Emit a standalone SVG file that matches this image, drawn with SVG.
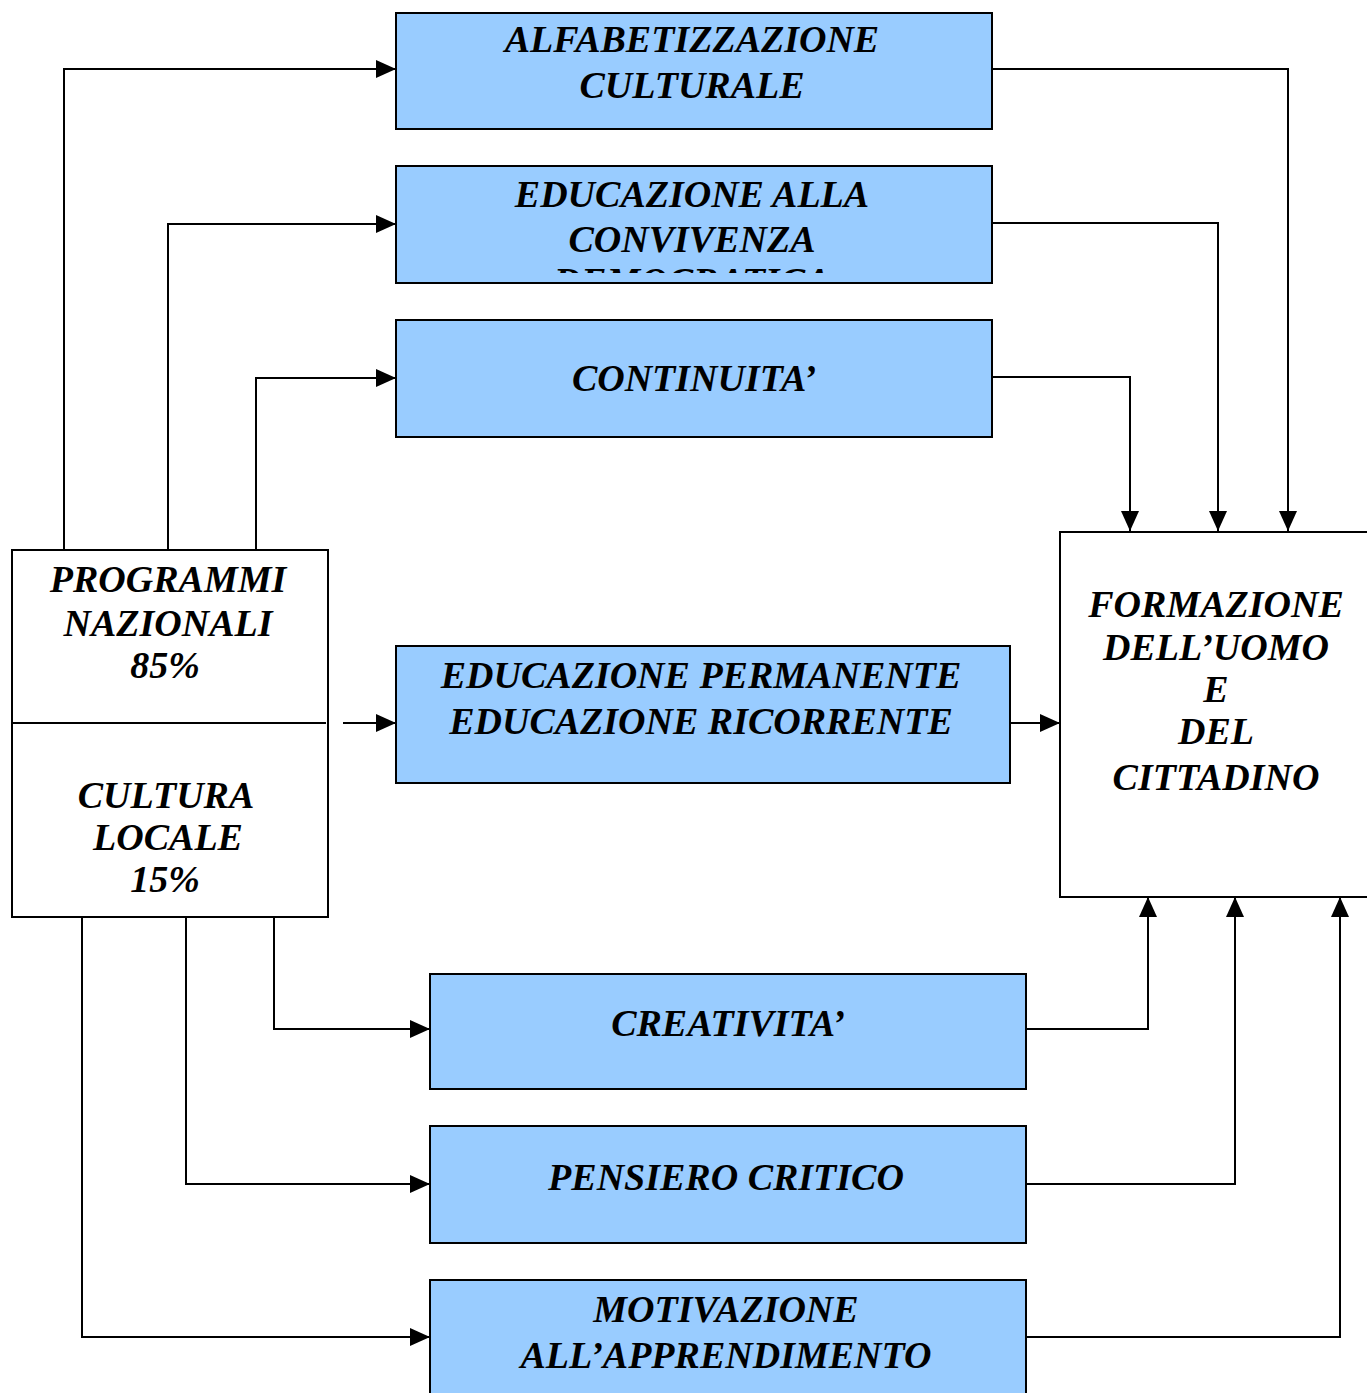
<svg xmlns="http://www.w3.org/2000/svg" width="1367" height="1393" viewBox="0 0 1367 1393">
<style>
.box{fill:#99CCFF;stroke:#000;stroke-width:2}
.wbox{fill:#fff;stroke:#000;stroke-width:2}
.t{font-family:"Liberation Serif","Times New Roman",serif;font-weight:bold;font-style:italic;font-size:38px;text-anchor:middle;fill:#000}
.c{fill:none;stroke:#000;stroke-width:2}
</style>
<defs>
<marker id="ah" viewBox="0 0 20 18" refX="20" refY="9" markerWidth="20" markerHeight="18" markerUnits="userSpaceOnUse" orient="auto">
<path d="M0,0 L20,9 L0,18 Z" fill="#000"/>
</marker>
<clipPath id="clip2"><rect x="396" y="166" width="596" height="107"/></clipPath>
</defs>
<rect width="1367" height="1393" fill="#fff"/>
<g id="connectors">
<path class="c" d="M64,550 V69 H396" marker-end="url(#ah)"/>
<path class="c" d="M168,550 V224 H396" marker-end="url(#ah)"/>
<path class="c" d="M256,550 V378 H396" marker-end="url(#ah)"/>
<path class="c" d="M343,723 H396" marker-end="url(#ah)"/>
<path class="c" d="M1010,723 H1060" marker-end="url(#ah)"/>
<path class="c" d="M990,69 H1288 V531" marker-end="url(#ah)"/>
<path class="c" d="M990,223 H1218 V531" marker-end="url(#ah)"/>
<path class="c" d="M990,377 H1130 V531" marker-end="url(#ah)"/>
<path class="c" d="M274,917 V1029 H430" marker-end="url(#ah)"/>
<path class="c" d="M186,917 V1184 H430" marker-end="url(#ah)"/>
<path class="c" d="M82,917 V1337 H430" marker-end="url(#ah)"/>
<path class="c" d="M1024,1029 H1148 V897" marker-end="url(#ah)"/>
<path class="c" d="M1024,1184 H1235 V897" marker-end="url(#ah)"/>
<path class="c" d="M1024,1337 H1340 V897" marker-end="url(#ah)"/>
</g>
<g id="alfabetizzazione">
<rect class="box" x="396" y="13" width="596" height="116"/>
<text class="t" x="692" y="52">ALFABETIZZAZIONE</text>
<text class="t" x="692" y="98">CULTURALE</text>
</g>
<g id="convivenza">
<rect class="box" x="396" y="166" width="596" height="117"/>
<g clip-path="url(#clip2)">
<text class="t" x="692" y="207">EDUCAZIONE ALLA</text>
<text class="t" x="692" y="252">CONVIVENZA</text>
<text class="t" x="692" y="294">DEMOCRATICA</text>
</g>
</g>
<g id="continuita">
<rect class="box" x="396" y="320" width="596" height="117"/>
<text class="t" x="694" y="391">CONTINUITA’</text>
</g>
<g id="permanente">
<rect class="box" x="396" y="646" width="614" height="137"/>
<text class="t" x="701" y="688">EDUCAZIONE PERMANENTE</text>
<text class="t" x="701" y="734">EDUCAZIONE RICORRENTE</text>
</g>
<g id="creativita">
<rect class="box" x="430" y="974" width="596" height="115"/>
<text class="t" x="728" y="1036">CREATIVITA’</text>
</g>
<g id="pensiero">
<rect class="box" x="430" y="1126" width="596" height="117"/>
<text class="t" x="726" y="1190">PENSIERO CRITICO</text>
</g>
<g id="motivazione">
<rect class="box" x="430" y="1280" width="596" height="130"/>
<text class="t" x="726" y="1322">MOTIVAZIONE</text>
<text class="t" x="726" y="1368">ALL’APPRENDIMENTO</text>
</g>
<g id="programmi">
<rect class="wbox" x="12" y="550" width="316" height="367"/>
<line class="c" x1="12" y1="723" x2="326" y2="723"/>
<text class="t" x="168" y="592">PROGRAMMI</text>
<text class="t" x="168" y="636">NAZIONALI</text>
<text class="t" x="165" y="678">85%</text>
<text class="t" x="166" y="808">CULTURA</text>
<text class="t" x="168" y="850">LOCALE</text>
<text class="t" x="165" y="892">15%</text>
</g>
<g id="formazione">
<rect class="wbox" x="1060" y="532" width="320" height="365"/>
<text class="t" x="1216" y="617">FORMAZIONE</text>
<text class="t" x="1216" y="660">DELL’UOMO</text>
<text class="t" x="1216" y="702">E</text>
<text class="t" x="1216" y="744">DEL</text>
<text class="t" x="1216" y="790">CITTADINO</text>
</g>
</svg>
